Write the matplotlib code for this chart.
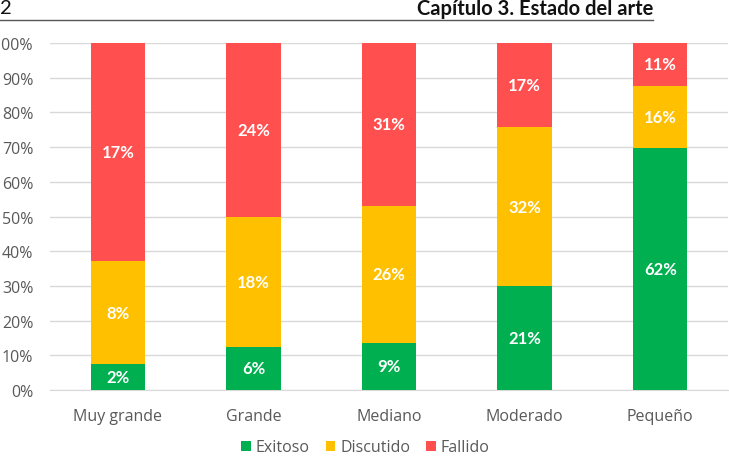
import numpy as np
import matplotlib.pyplot as plt
from matplotlib.lines import Line2D

# category sizes and counts shown on each segment
categories = ["Muy grande", "Grande", "Mediano", "Moderado", "Pequeño"]
exitoso = [2, 6, 9, 21, 62]
discutido = [8, 18, 26, 32, 16]
fallido = [17, 24, 31, 17, 11]

series_names = ["Exitoso", "Discutido", "Fallido"]
colors = ["#00B050", "#FFC000", "#FF4F4F"]

label_font = "Lato"
tick_color = "#595959"

fig = plt.figure(figsize=(7.29, 4.6), dpi=100)

# page header (chart comes from a scanned thesis page)
fig.text(0 / 729, 1 - 9 / 460, "2", ha="left", va="center", fontsize=14.5,
         family="Lato", color="#111111")
fig.text(653 / 729, 1 - 9 / 460, "Capítulo 3. Estado del arte", ha="right", va="center",
         fontsize=14.5, family="Lato", fontweight="bold", color="#111111")
fig.add_artist(Line2D([0, 653 / 729], [1 - 21 / 460, 1 - 21 / 460],
                      transform=fig.transFigure, color="#555555", lw=1.0))

ax = fig.add_axes([50 / 729, 69 / 460, 678 / 729, 347 / 460])

data = np.array([exitoso, discutido, fallido], dtype=float)
shares = data / data.sum(axis=0)
x = np.arange(len(categories))

bottom = np.zeros(len(categories))
for i in range(len(series_names)):
    ax.bar(x, shares[i], 0.4, bottom=bottom, color=colors[i], label=series_names[i], zorder=3)
    for j in range(len(categories)):
        ax.text(x[j], bottom[j] + shares[i][j] / 2, f"{int(data[i][j])}%", ha="center",
                va="center", color="white", fontsize=12, fontweight="bold",
                family=label_font, zorder=4)
    bottom += shares[i]

ax.set_xlim(-0.5, len(categories) - 0.5)
ax.set_ylim(0, 1)
ax.set_yticks(np.arange(0, 1.01, 0.1))
ax.set_yticklabels([f"{int(round(v * 100))}%" for v in np.arange(0, 1.01, 0.1)])
ax.set_xticks(x)
ax.set_xticklabels(categories)
ax.yaxis.grid(True, color="#D9D9D9", lw=1.0, zorder=0)
for side in ["top", "right", "left"]:
    ax.spines[side].set_visible(False)
ax.spines["bottom"].set_color("#D9D9D9")
ax.tick_params(axis="both", length=0, colors=tick_color, labelsize=11.5)
ax.tick_params(axis="y", pad=12)
ax.tick_params(axis="x", pad=13)
for lbl in ax.get_xticklabels() + ax.get_yticklabels():
    lbl.set_family("Open Sans")

leg = ax.legend(loc="center", bbox_to_anchor=(0.465, -0.165), ncol=3, frameon=False,
                handlelength=0.6, handleheight=0.6, handletextpad=0.3, columnspacing=1.0,
                prop={"family": "Open Sans", "size": 11.5})
for t in leg.get_texts():
    t.set_color(tick_color)

fig.savefig("out.png", dpi=100)
